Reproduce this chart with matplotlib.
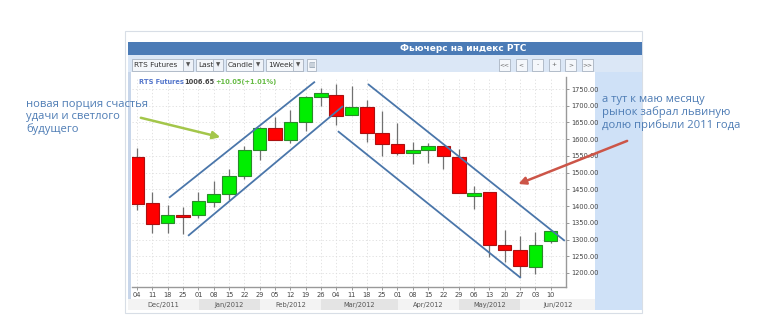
import matplotlib
matplotlib.use("Agg")
import matplotlib.pyplot as plt
from matplotlib.patches import Rectangle

W, H = 758, 316

# weekly candles, Dec 2011 - Jun 2012
week_labels = ["04", "11", "18", "25", "01", "08", "15", "22", "29", "05", "12", "19", "26", "04",
               "11", "18", "25", "01", "08", "15", "22", "29", "06", "13", "20", "27", "03", "10"]
opens = [1548, 1410, 1350, 1372, 1372, 1413, 1435, 1489, 1567, 1632, 1598, 1652, 1727, 1732,
         1672, 1695, 1620, 1586, 1560, 1569, 1580, 1548, 1430, 1441, 1283, 1269, 1219, 1297]
closes = [1405, 1347, 1372, 1366, 1415, 1436, 1489, 1567, 1632, 1598, 1652, 1727, 1737, 1669,
          1697, 1618, 1586, 1558, 1569, 1581, 1551, 1440, 1438, 1284, 1269, 1222, 1284, 1326]
highs = [1573, 1443, 1403, 1398, 1443, 1475, 1510, 1581, 1636, 1667, 1687, 1730, 1752, 1764,
         1759, 1717, 1684, 1647, 1593, 1588, 1580, 1571, 1460, 1441, 1329, 1311, 1323, 1326]
lows = [1388, 1320, 1320, 1316, 1363, 1398, 1418, 1480, 1538, 1598, 1590, 1625, 1700, 1642,
        1672, 1593, 1550, 1553, 1525, 1528, 1510, 1440, 1391, 1249, 1234, 1189, 1196, 1289]

months = ["Dec/2011", "Jan/2012", "Feb/2012", "Mar/2012", "Apr/2012", "May/2012", "Jun/2012"]
month_starts = [-0.6, 4, 8, 12, 17, 21, 25]

# channel lines (week index, price)
channels = [
    ([2.09, 11.61], [1425, 1772]),
    ([3.33, 13.44], [1311, 1699]),
    ([15.07, 27.92], [1765, 1296]),
    ([13.11, 25.05], [1624, 1185]),
]

left_note = "новая порция счастья\nудачи и светлого\nбудущего"
right_note = "а тут к маю месяцу\nрынок забрал львиную\nдолю прибыли 2011 года"


def frac(x0, y0, x1, y1):
    return [x0 / W, 1 - y1 / H, (x1 - x0) / W, (y1 - y0) / H]


def box(fig, x0, y0, x1, y1, fc, ec="none", lw=0.8, z=0):
    l, b, w, h = frac(x0, y0, x1, y1)
    fig.add_artist(Rectangle((l, b), w, h, transform=fig.transFigure, fc=fc, ec=ec, lw=lw, zorder=z))


def ftext(fig, x, y, s, **kw):
    fig.text(x / W, 1 - y / H, s, **kw)


fig = plt.figure(figsize=(W / 100, H / 100), dpi=100)
fig.patch.set_facecolor("white")

# widget frame
box(fig, 125, 31, 642, 313, "white", "#d8dee6", 0.8)
box(fig, 128, 42, 642, 55, "#4b7bb6")
box(fig, 128, 55, 642, 72, "#dbe7f6")
box(fig, 595, 72, 642, 310, "#cfe1f7")
box(fig, 128, 72, 131, 300, "#c8d6ea")
ftext(fig, 463, 48.5, "Фьючерс на индекс РТС", color="white", fontsize=6.5, fontweight="bold",
      ha="center", va="center")

# toolbar
for x0, x1, label in [(132, 193, "RTS Futures"), (196, 223, "Last"), (226, 263, "Candle"), (266, 303, "1Week")]:
    box(fig, x0, 59, x1, 71, "#f4f7fb", "#a9b4c2", 0.6, z=1)
    box(fig, x1 - 10, 59, x1, 71, "#eef2f8", "#a9b4c2", 0.6, z=1)
    ftext(fig, x0 + 2, 65, label, fontsize=5.3, color="#333333", va="center")
    ftext(fig, x1 - 5, 65, "▼", fontsize=4, color="#555555", ha="center", va="center")
box(fig, 307, 59, 316, 71, "#f4f7fb", "#a9b4c2", 0.6, z=1)
ftext(fig, 311.5, 65, "▥", fontsize=5, color="#8899aa", ha="center", va="center")
for i, label in enumerate(["<<", "<", "-", "+", ">", ">>"]):
    x0 = 499 + i * 16.6
    box(fig, x0, 59, x0 + 11, 71, "#f4f7fb", "#a9b4c2", 0.6, z=1)
    ftext(fig, x0 + 5.5, 65, label, fontsize=4.3, color="#666666", ha="center", va="center")

# candles
ax = fig.add_axes(frac(132, 77, 566, 287))
ax.set_facecolor("white")
idx = list(range(len(opens)))
for i in idx:
    up = closes[i] >= opens[i]
    fc = "#00ee00" if up else "#ff0000"
    ec = "#2a8a2a" if up else "#aa1111"
    ax.vlines(i, lows[i], highs[i], color="#707070", lw=0.9, zorder=2)
    lo, hi = sorted([opens[i], closes[i]])
    ax.add_patch(Rectangle((i - 0.44, lo), 0.88, max(hi - lo, 2), fc=fc, ec=ec, lw=0.8, zorder=3))

for xs, ys in channels:
    ax.plot(xs, ys, color="#4a76aa", lw=1.3, zorder=4, solid_capstyle="butt")

ax.set_xlim(-0.33, 28)
ax.set_ylim(1158, 1786)
ax.set_xticks(idx)
ax.set_xticklabels(week_labels)
ax.set_yticks(range(1200, 1751, 50))
ax.set_yticklabels([f"{v:.2f}" for v in range(1200, 1751, 50)])
ax.yaxis.tick_right()
ax.tick_params(axis="both", labelsize=4.8, colors="#888888", labelcolor="#444444", length=2.5, width=0.6, pad=1)
ax.grid(True, color="#dddddd", lw=0.6, ls=(0, (1.5, 2.5)))
ax.set_axisbelow(True)
for side in ["left", "top"]:
    ax.spines[side].set_visible(False)
for side in ["right", "bottom"]:
    ax.spines[side].set_color("#999999")
    ax.spines[side].set_linewidth(1.0)

ax.text(0.015, 0.975, "RTS Futures", transform=ax.transAxes, fontsize=4.8, fontweight="bold",
        color="#5577cc", va="center")
ax.text(0.12, 0.975, "1006.65", transform=ax.transAxes, fontsize=4.8, fontweight="bold",
        color="#444444", va="center")
ax.text(0.192, 0.975, "+10.05(+1.01%)", transform=ax.transAxes, fontsize=4.8, fontweight="bold",
        color="#66bb44", va="center")

# arrows
ax.annotate("", xy=(5.61, 1604), xytext=(0.07, 1666), annotation_clip=False,
            arrowprops=dict(arrowstyle="-|>", color="#a3c64a", lw=1.8, mutation_scale=11))
ax.annotate("", xy=(24.72, 1463), xytext=(32.16, 1598), annotation_clip=False,
            arrowprops=dict(arrowstyle="-|>", color="#cc5548", lw=1.8, mutation_scale=11))

# month bands
bx = fig.add_axes(frac(128, 299, 595, 310))
xmax = 29.87
edges = month_starts + [xmax]
for k, name in enumerate(months):
    bx.axvspan(edges[k], edges[k + 1], color="#f3f3f3" if k % 2 == 0 else "#e4e4e4", lw=0)
    bx.text((edges[k] + edges[k + 1]) / 2, 0.5, name, fontsize=4.8, color="#555555",
            ha="center", va="center")
bx.set_xlim(month_starts[0], xmax)
bx.set_ylim(0, 1)
bx.axis("off")

# notes
ftext(fig, 26, 99, left_note, fontsize=8.1, color="#4f7db5", family=["Open Sans", "DejaVu Sans"],
      va="top", linespacing=1.15)
ftext(fig, 602, 94, right_note, fontsize=8.1, color="#4f7db5", family=["Open Sans", "DejaVu Sans"],
      va="top", linespacing=1.15)

fig.savefig("out.png", dpi=100, facecolor="white")
